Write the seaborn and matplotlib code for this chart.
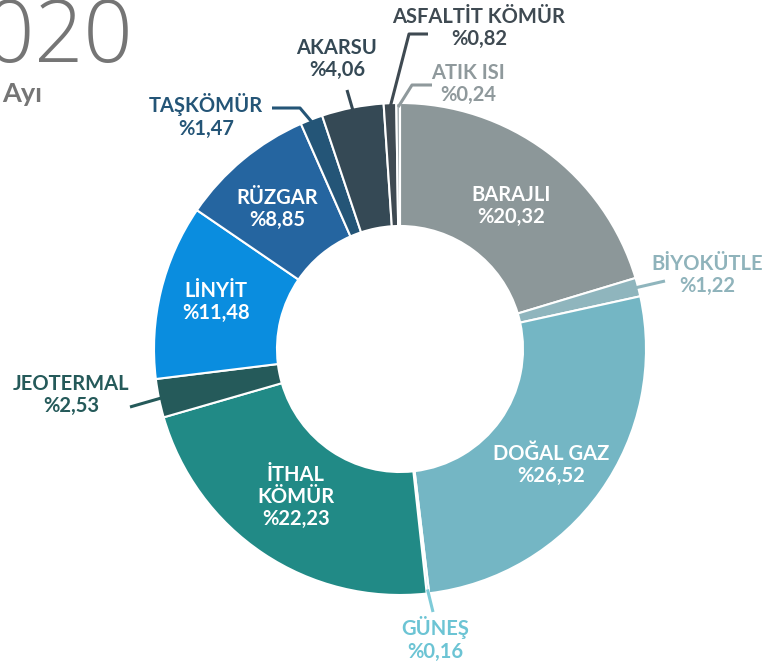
import numpy as np
import matplotlib
matplotlib.use("Agg")
import matplotlib.pyplot as plt
import seaborn as sns

sources = ["BARAJLI", "BİYOKÜTLE", "DOĞAL GAZ", "GÜNEŞ", "İTHAL\nKÖMÜR", "JEOTERMAL",
           "LİNYİT", "RÜZGAR", "TAŞKÖMÜR", "AKARSU", "ASFALTİT KÖMÜR", "ATIK ISI"]
shares = [20.32, 1.22, 26.52, 0.16, 22.23, 2.53, 11.48, 8.85, 1.47, 4.06, 0.82, 0.24]
colors = ["#8c9799", "#8fb5bd", "#74b6c4", "#7ecbd8", "#218a86", "#255a5a",
          "#0a8ddf", "#2565a0", "#245577", "#354955", "#3f4a52", "#a3abae"]
label_colors = ["white", "#8fb3bb", "white", "#6cc4d4", "white", "#255a5a",
                "white", "white", "#245577", "#354955", "#3f4a52", "#8f999c"]

sns.set_style("white")
plt.rcParams["font.family"] = ["Lato", "DejaVu Sans"]

H = 665
CX, CY, R = 400, 349, 246


def Y(y):
    return H - y


fig = plt.figure(figsize=(7.63, 6.65), dpi=100)
ax = fig.add_axes([0, 0, 1, 1])
ax.pie(shares, colors=colors, startangle=90, counterclock=False,
       center=(CX, Y(CY)), radius=R,
       wedgeprops=dict(width=123, edgecolor="white", linewidth=1.5))
ax.set_xlim(0, 763)
ax.set_ylim(0, H)
ax.set_aspect("equal")
ax.axis("off")

# wedge mid angles (clockwise from top)
total = sum(shares)
cum = np.cumsum([0] + shares[:-1])
mids = [(c + s / 2) / total * 360 for c, s in zip(cum, shares)]


def edge_pt(i, r=R - 4):
    a = np.radians(mids[i])
    return CX + r * np.sin(a), CY - r * np.cos(a)


# label positions (pixel coords, centre of the text block)
label_pos = {
    0: (511, 206), 1: (707, 275), 2: (551, 465), 3: (435, 639),
    4: (296, 497), 5: (71, 395), 6: (216, 302), 7: (277, 209),
    8: (206, 116), 9: (337, 59), 10: (479, 28), 11: (468, 84),
}
for i, (x, y) in label_pos.items():
    pct = ("%" + f"{shares[i]:.2f}").replace(".", ",")
    ax.text(x, Y(y), f"{sources[i]}\n{pct}", ha="center", va="center",
            color=label_colors[i], fontsize=14.5, fontweight="bold",
            linespacing=1.15)

# leader lines for small / outside labels
leaders = {
    1: [(665, 281)],
    3: [(433, 612)],
    5: [(130, 407)],
    8: [(300, 108), (272, 108)],
    9: [(347, 90)],
    10: [(409, 34), (428, 34)],
    11: [(412, 85), (432, 85)],
}
for i, pts in leaders.items():
    sx, sy = edge_pt(i)
    xs = [sx] + [p[0] for p in pts]
    ys = [Y(sy)] + [Y(p[1]) for p in pts]
    ax.plot(xs, ys, color=colors[i] if i != 11 else "#8f999c", lw=2.2,
            solid_capstyle="butt")

# clipped page title
ax.text(133, Y(62), "2020", ha="right", va="baseline", color="#757575",
        fontsize=62, fontweight="light", family=["Open Sans", "DejaVu Sans"])
ax.text(2, Y(102), "Ayı", ha="left", va="baseline", color="#757575",
        fontsize=19.5, fontweight="bold")

fig.savefig("out.png", dpi=100)
